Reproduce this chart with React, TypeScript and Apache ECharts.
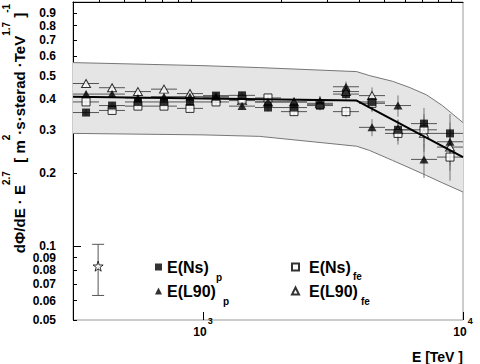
import React, { useEffect, useRef } from 'react';
import * as echarts from 'echarts';

// ---- data ----
const binCenters = [355, 447, 562, 708, 891, 1122, 1413, 1778, 2239, 2818, 3548, 4467, 5623, 7079, 8913];
const binLow = [316, 398, 501, 631, 794, 1000, 1259, 1585, 1995, 2512, 3162, 3981, 5012, 6310, 7943];
const binHigh = [398, 501, 631, 794, 1000, 1259, 1585, 1995, 2512, 3162, 3981, 5012, 6310, 7943, 10000];

const nsP = [0.353, 0.377, 0.39, 0.39, 0.39, 0.414, 0.415, 0.37, 0.37, 0.377, 0.42, 0.39, 0.30, 0.318, 0.29];
const l90P = [0.42, 0.42, 0.405, 0.41, 0.41, 0.41, 0.375, 0.39, 0.39, 0.395, 0.45, 0.307, 0.377, 0.227, 0.268];
const nsFe = [0.39, 0.36, 0.375, 0.375, 0.367, 0.39, 0.40, 0.405, 0.356, 0.38, 0.356, 0.385, 0.29, 0.30, 0.232];
const l90Fe = [0.464, 0.446, 0.43, 0.44, 0.422, 0.405, 0.395, 0.39, 0.39, 0.385, 0.43, 0.414, 0.30, 0.29, 0.255];
const relErr = [0.03, 0.03, 0.03, 0.03, 0.03, 0.03, 0.035, 0.035, 0.04, 0.045, 0.05, 0.08, 0.1, 0.16, 0.2];

const bandE = [316.2, 1000, 1650, 3900, 4370, 5350, 6200, 7240, 8330, 10000];
const bandUpper = [0.565, 0.549, 0.539, 0.519, 0.50, 0.474, 0.448, 0.417, 0.377, 0.321];
const bandLower = [0.290, 0.286, 0.282, 0.257, 0.247, 0.225, 0.21, 0.195, 0.182, 0.167];

const fitE = [316.2, 3900, 10000];
const fitV = [0.41, 0.395, 0.232];

const starE = [395];
const starV = [0.083];
const starLo = [0.063];
const starHi = [0.102];

const xMinorTicks = [400, 500, 600, 700, 800, 900, 2000, 3000, 4000, 5000, 6000, 7000, 8000, 9000];
const xMajorTicks = [1000, 10000];
const yTickValues = [0.05, 0.06, 0.07, 0.08, 0.09, 0.1, 0.2, 0.3, 0.4, 0.5, 0.6, 0.7, 0.8, 0.9];
const yTickLabels = ['0.05', '0.06', '0.07', '0.08', '0.09', '0.1', '0.2', '0.3', '0.4', '0.5', '0.6', '0.7', '0.8', '0.9'];
const yLongTicks = [0.1, 0.5];

const seriesNames = ['E(Ns)_p', 'E(L90)_p', 'E(Ns)_fe', 'E(L90)_fe'];
const legendMain: Record<string, string> = { 'E(Ns)_p': 'E(Ns)', 'E(L90)_p': 'E(L90)', 'E(Ns)_fe': 'E(Ns)', 'E(L90)_fe': 'E(L90)' };
const legendSubs = ['p', 'p', 'fe', 'fe'];

const FONT = '"Liberation Sans", Arial, Helvetica, sans-serif';
const X_MIN_EXP = 2.5;
const X_MAX_EXP = 4;
const Y_MIN = 0.05;
const Y_MAX = 1;

const STAR = 'path://M50,0 L61.8,36.2 L100,36.2 L69.1,58.8 L80.9,95.1 L50,72.7 L19.1,95.1 L30.9,58.8 L0,36.2 L38.2,36.2 Z';

function errData(vals: number[]) {
  return binCenters.map((c, i) => [c, vals[i], binLow[i], binHigh[i], vals[i] * (1 - relErr[i]), vals[i] * (1 + relErr[i])]);
}

function errRender(params: any, api: any) {
  const x = api.value(0), y = api.value(1);
  const pL = api.coord([api.value(2), y]);
  const pR = api.coord([api.value(3), y]);
  const pB = api.coord([x, api.value(4)]);
  const pT = api.coord([x, api.value(5)]);
  return {
    type: 'group',
    children: [
      { type: 'line', shape: { x1: pL[0], y1: pL[1], x2: pR[0], y2: pR[1] }, style: { stroke: '#555', lineWidth: 1 } },
      { type: 'line', shape: { x1: pB[0], y1: pB[1], x2: pT[0], y2: pT[1] }, style: { stroke: '#777', lineWidth: 1 } },
    ],
  };
}

export default function App() {
  const ref = useRef<HTMLDivElement>(null);
  useEffect(() => {
    const chart = echarts.init(ref.current!, null, { renderer: 'svg' });

    const legendText = (padLeft: number) => ({
      rich: {
        m: { fontFamily: FONT, fontWeight: 'bold', fontSize: 16, lineHeight: 16, color: '#000', padding: [0, 0, 0, padLeft] },
      },
    });
    const subStyle = { fontFamily: FONT, fontWeight: 'bold', fontSize: 10, fill: '#000', align: 'left', verticalAlign: 'middle' };

    const option: any = {
      animation: false,
      backgroundColor: '#fff',
      grid: { left: 73, right: 17, top: 2, bottom: 44, show: true, borderColor: '#999', borderWidth: 1, backgroundColor: 'transparent' },
      xAxis: [
        {
          type: 'log', logBase: 10, min: Math.pow(10, X_MIN_EXP), max: Math.pow(10, X_MAX_EXP), position: 'bottom',
          axisLine: { show: true, lineStyle: { color: '#000', width: 1 } },
          axisTick: { show: false }, axisLabel: { show: false }, splitLine: { show: false }, minorTick: { show: false },
        },
        {
          type: 'value', min: X_MIN_EXP, max: X_MAX_EXP, position: 'bottom', offset: 0,
          axisLine: { show: false }, splitLine: { show: false },
          axisTick: { show: true, inside: true, length: 4, lineStyle: { color: '#000' }, customValues: xMinorTicks.map(Math.log10) },
          axisLabel: { show: false },
        },
        {
          type: 'value', min: X_MIN_EXP, max: X_MAX_EXP, position: 'bottom', offset: 0,
          axisLine: { show: false }, splitLine: { show: false },
          axisTick: { show: true, inside: true, length: 8, lineStyle: { color: '#000' }, customValues: xMajorTicks.map(Math.log10) },
          axisLabel: {
            show: true, margin: -5, customValues: xMajorTicks.map(Math.log10),
            formatter: (v: number) => `{b|10}{s|${Math.round(v)}}`,
            rich: {
              b: { fontFamily: FONT, fontWeight: 'bold', fontSize: 12, lineHeight: 12, color: '#000', padding: [11, 0, 0, 0], verticalAlign: 'top' },
              s: { fontFamily: FONT, fontWeight: 'bold', fontSize: 9, lineHeight: 9, color: '#000', padding: [1, 0, 0, 1], verticalAlign: 'top' },
            },
          },
        },
      ],
      yAxis: [
        {
          type: 'log', logBase: 10, min: Y_MIN, max: Y_MAX, position: 'left',
          axisLine: { show: true, lineStyle: { color: '#000', width: 1 } },
          axisTick: { show: false }, axisLabel: { show: false }, splitLine: { show: false }, minorTick: { show: false },
        },
        {
          type: 'value', min: Math.log10(Y_MIN), max: Math.log10(Y_MAX), position: 'left', offset: 0,
          axisLine: { show: false }, splitLine: { show: false },
          axisTick: { show: true, inside: true, length: 4, lineStyle: { color: '#000' }, customValues: yTickValues.map(Math.log10) },
          axisLabel: {
            show: true, margin: 17, customValues: yTickValues.map(Math.log10),
            fontFamily: FONT, fontWeight: 'bold', fontSize: 12, lineHeight: 11, color: '#000',
            formatter: (v: number) => {
              const i = yTickValues.findIndex((t) => Math.abs(Math.log10(t) - v) < 1e-6);
              return i >= 0 ? yTickLabels[i] : '';
            },
          },
        },
        {
          type: 'value', min: Math.log10(Y_MIN), max: Math.log10(Y_MAX), position: 'left', offset: 0,
          axisLine: { show: false }, splitLine: { show: false },
          axisTick: { show: true, inside: true, length: 8, lineStyle: { color: '#000' }, customValues: yLongTicks.map(Math.log10) },
          axisLabel: { show: false },
        },
      ],
      legend: [
        {
          data: [{ name: seriesNames[0], icon: 'rect' }, { name: seriesNames[1], icon: 'triangle' }],
          orient: 'vertical', left: 155, top: 259, padding: 0, itemWidth: 7, itemHeight: 7, itemGap: 8, selectedMode: false,
          formatter: (n: string) => `{m|${legendMain[n]}}`,
          textStyle: legendText(0),
        },
        {
          data: [{ name: seriesNames[2], icon: 'rect' }, { name: seriesNames[3], icon: 'triangle' }],
          orient: 'vertical', left: 291, top: 259, padding: 0, itemWidth: 7, itemHeight: 7, itemGap: 8, selectedMode: false,
          formatter: (n: string) => `{m|${legendMain[n]}}`,
          textStyle: legendText(5),
        },
      ],
      graphic: [
        {
          type: 'text', x: 9.5, y: 128.5, rotation: Math.PI / 2,
          style: {
            text: '{m|dΦ/dE · E}{s|2.7}{m|  [ m}{s|2}{m|·s·sterad ·TeV}{s|1.7}{m| ]}{s|-1}',
            align: 'center', verticalAlign: 'middle',
            rich: {
              m: { fontFamily: FONT, fontWeight: 'bold', fontSize: 15, lineHeight: 16, fill: '#000', padding: [10.5, 0, 0, 0], verticalAlign: 'top' },
              s: { fontFamily: FONT, fontWeight: 'bold', fontSize: 10, lineHeight: 10, fill: '#000', padding: [0, 0, 0, 0], verticalAlign: 'top' },
            },
          },
        },
        {
          type: 'text', x: 463, y: 357,
          style: { text: 'E [TeV ]', fontFamily: FONT, fontWeight: 'bold', fontSize: 14, fill: '#000', align: 'right', verticalAlign: 'middle' },
        },
        { type: 'text', x: 216, y: 277, style: { ...subStyle, text: legendSubs[0] } },
        { type: 'text', x: 223, y: 301, style: { ...subStyle, text: legendSubs[1] } },
        { type: 'text', x: 353, y: 276, style: { ...subStyle, text: legendSubs[2] } },
        { type: 'text', x: 361, y: 301, style: { ...subStyle, text: legendSubs[3] } },
      ],
      series: [
        {
          type: 'custom', name: 'band', xAxisIndex: 0, yAxisIndex: 0, silent: true,
          data: bandE.map((e, i) => [e, bandUpper[i], bandLower[i]]),
          renderItem: (params: any, api: any) => {
            if (params.dataIndex !== 0) return null;
            const up = bandE.map((e, i) => api.coord([e, bandUpper[i]]));
            const lo = bandE.map((e, i) => api.coord([e, bandLower[i]]));
            return {
              type: 'group',
              children: [
                { type: 'polygon', shape: { points: up.concat(lo.slice().reverse()) }, style: { fill: '#e5e5e5', stroke: 'none' } },
                { type: 'polyline', shape: { points: up }, style: { stroke: '#777', lineWidth: 1, fill: 'none' } },
                { type: 'polyline', shape: { points: lo }, style: { stroke: '#777', lineWidth: 1, fill: 'none' } },
              ],
            };
          },
        },
        { type: 'custom', name: 'err1', xAxisIndex: 0, yAxisIndex: 0, silent: true, data: errData(nsP), renderItem: errRender },
        { type: 'custom', name: 'err2', xAxisIndex: 0, yAxisIndex: 0, silent: true, data: errData(l90P), renderItem: errRender },
        { type: 'custom', name: 'err3', xAxisIndex: 0, yAxisIndex: 0, silent: true, data: errData(nsFe), renderItem: errRender },
        { type: 'custom', name: 'err4', xAxisIndex: 0, yAxisIndex: 0, silent: true, data: errData(l90Fe), renderItem: errRender },
        {
          type: 'custom', name: 'starErr', xAxisIndex: 0, yAxisIndex: 0, silent: true,
          data: starE.map((e, i) => [e, starV[i], starLo[i], starHi[i]]),
          renderItem: (params: any, api: any) => {
            const x = api.value(0);
            const pB = api.coord([x, api.value(2)]);
            const pT = api.coord([x, api.value(3)]);
            const st = { stroke: '#555', lineWidth: 1 };
            return {
              type: 'group',
              children: [
                { type: 'line', shape: { x1: pB[0], y1: pB[1], x2: pT[0], y2: pT[1] }, style: st },
                { type: 'line', shape: { x1: pB[0] - 6, y1: pB[1], x2: pB[0] + 6, y2: pB[1] }, style: st },
                { type: 'line', shape: { x1: pT[0] - 6, y1: pT[1], x2: pT[0] + 6, y2: pT[1] }, style: st },
              ],
            };
          },
        },
        {
          type: 'line', name: 'fit', xAxisIndex: 0, yAxisIndex: 0, silent: true, symbol: 'none',
          data: fitE.map((e, i) => [e, fitV[i]]),
          lineStyle: { color: '#000', width: 2 },
        },
        {
          type: 'scatter', name: seriesNames[3], xAxisIndex: 0, yAxisIndex: 0, symbol: 'triangle', symbolSize: [9, 8],
          data: binCenters.map((c, i) => [c, l90Fe[i]]),
          itemStyle: { color: '#fff', borderColor: '#000', borderWidth: 1 },
        },
        {
          type: 'scatter', name: seriesNames[2], xAxisIndex: 0, yAxisIndex: 0, symbol: 'rect', symbolSize: 8,
          data: binCenters.map((c, i) => [c, nsFe[i]]),
          itemStyle: { color: '#fff', borderColor: '#000', borderWidth: 1 },
        },
        {
          type: 'scatter', name: seriesNames[1], xAxisIndex: 0, yAxisIndex: 0, symbol: 'triangle', symbolSize: [9, 8],
          data: binCenters.map((c, i) => [c, l90P[i]]),
          itemStyle: { color: '#000' },
        },
        {
          type: 'scatter', name: seriesNames[0], xAxisIndex: 0, yAxisIndex: 0, symbol: 'rect', symbolSize: 8,
          data: binCenters.map((c, i) => [c, nsP[i]]),
          itemStyle: { color: '#000' },
        },
        {
          type: 'scatter', name: 'star', xAxisIndex: 0, yAxisIndex: 0, symbol: STAR, symbolSize: 10,
          data: starE.map((e, i) => [e, starV[i]]),
          itemStyle: { color: '#fff', borderColor: '#000', borderWidth: 1 },
        },
      ],
    };
    chart.setOption(option);
    return () => chart.dispose();
  }, []);
  return <div ref={ref} style={{ position: 'fixed', left: 0, top: 0, width: 480, height: 364, background: '#fff' }} />;
}
